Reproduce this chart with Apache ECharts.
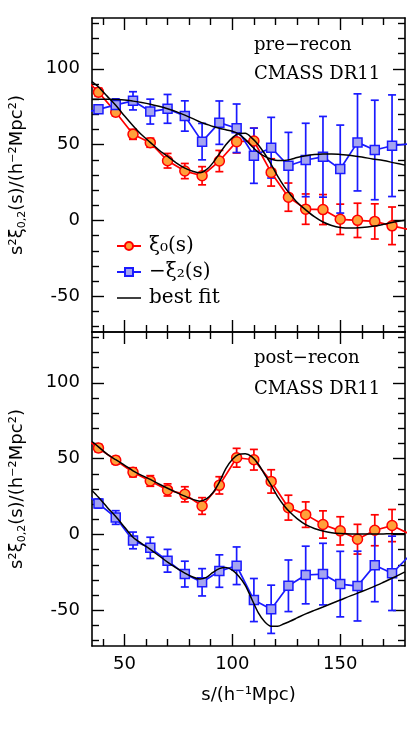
<!DOCTYPE html>
<html>
<head>
<meta charset="utf-8">
<script src="https://cdn.jsdelivr.net/npm/echarts@6/dist/echarts.min.js"></script>
<style>
  html, body { margin: 0; padding: 0; background: #fff; }
  #chart { width: 415px; height: 736px; }
</style>
</head>
<body>
<div id="chart"></div>
<script>
// bin centres, s in h^-1 Mpc
const sBins = [38, 46, 54, 62, 70, 78, 86, 94, 102, 110, 118, 126, 134, 142, 150, 158, 166, 174];

// pre-recon
const preXi0 = [84.6, 71.4, 56.8, 51.3, 39.4, 32.6, 29.5, 39.2, 52.0, 52.4, 31.7, 15.4, 7.5, 7.2, 0.8, 0.1, -0.6, -3.5];
const preXi0Err = [2.7, 2.5, 3.3, 3.0, 4.8, 5.0, 6.0, 7.0, 7.5, 8.5, 9.0, 9.3, 10.0, 9.9, 10.0, 11.3, 11.6, 12.4];
const preXi2 = [73.3, 76.2, 78.9, 71.8, 73.6, 68.9, 52.0, 64.5, 60.8, 42.7, 48.0, 36.1, 39.9, 42.0, 33.9, 51.5, 46.5, 49.3];
const preXi2Err = [2.5, 4.0, 6.0, 8.2, 9.5, 10.0, 12.0, 14.3, 16.0, 18.2, 20.0, 22.0, 24.2, 26.6, 29.0, 32.0, 32.8, 33.5];

// post-recon
const postXi0 = [57.0, 48.9, 41.0, 35.3, 29.4, 26.5, 18.8, 32.4, 50.6, 49.3, 35.0, 17.7, 13.1, 6.6, 2.4, -3.1, 2.8, 5.9];
const postXi0Err = [2.5, 2.5, 3.0, 3.5, 4.0, 5.0, 5.5, 5.7, 6.2, 6.8, 7.7, 8.2, 8.4, 9.0, 9.3, 9.8, 10.2, 10.6];
const postXi2 = [20.4, 11.2, -3.9, -8.8, -17.3, -26.1, -31.5, -24.1, -20.6, -43.2, -49.3, -33.8, -26.7, -26.1, -32.7, -34.0, -20.2, -25.6];
const postXi2Err = [3.0, 4.5, 5.5, 7.0, 7.5, 8.5, 9.0, 10.7, 12.4, 14.2, 15.9, 17.0, 19.0, 20.3, 21.6, 23.0, 24.1, 24.5];

// neighbouring bins just outside the plotted range (s = 30 and 182), only the joining line shows
const edgeS = [30, 182];
const preXi0Edge = [96, -6];
const preXi2Edge = [70.5, 50.5];
const postXi0Edge = [65, 0.4];
const postXi2Edge = [29, -14];

// best fit models
const fitS = [35, 38, 42, 46, 50, 54, 58, 62, 66, 70, 74, 78, 82, 85, 88, 91, 94, 97, 100, 103, 106, 109, 112, 115, 118, 121, 124, 127, 130, 134, 138, 142, 146, 150, 155, 160, 165, 170, 175, 180];
const fitPreXi0 = [91.5, 88, 82, 76, 69, 62.5, 56.5, 51.5, 46.5, 42.3, 38, 34.5, 32.3, 31.5, 33.5, 38, 44, 50, 54.5, 57.3, 57.5, 54.5, 50, 44, 37, 29.2, 22.5, 17, 12, 7, 2.5, -1, -3.3, -4.6, -5, -4.6, -3.8, -2.5, -1, 0.2];
const fitPreXi2 = [80, 80, 80, 79.8, 79.5, 78.7, 77.8, 76.7, 75.3, 73.7, 71.8, 69.5, 67, 65, 63.5, 62, 60.8, 59.8, 58.8, 57, 53.5, 49, 45, 42.3, 40.5, 39.5, 39.6, 40.3, 41.5, 42.7, 43.5, 43.9, 43.9, 43.5, 42.8, 41.8, 40.6, 39.5, 38, 36.5];
const fitPostXi0 = [61.3, 57.8, 53, 49.3, 45.8, 42, 39, 36.3, 33.3, 30.5, 27.8, 25.3, 23, 22, 23.5, 27.5, 34.5, 43.5, 49.5, 52.8, 53.2, 51.3, 46.5, 39.5, 32.5, 25, 19, 14.3, 10.5, 6.5, 4, 2.3, 1.2, 0.7, 0.4, 0.3, 0.3, 0.4, 0.5, 0.5];
const fitPostXi2 = [29, 24.5, 18, 11.8, 5, -1.8, -6, -9.8, -14, -18.2, -22, -25.4, -28.2, -29.4, -28.3, -25, -22.5, -21.8, -23.5, -27.5, -33.5, -42.5, -51.5, -57.5, -60.5, -60.5, -58.8, -57, -55, -52.3, -50, -47.8, -45.5, -43.2, -40.3, -37.6, -34.7, -31.5, -28.2, -24.6];

// axes
const xMin = 35, xMax = 180;
const yMin = -73.5, yMax = 133.5;
const xMajor = [50, 100, 150];
const xMinor = [40, 60, 70, 80, 90, 110, 120, 130, 140, 160, 170];
const yMajor = [-50, 0, 50, 100];
const yMinor = [-70, -60, -40, -30, -20, -10, 10, 20, 30, 40, 60, 70, 80, 90, 110, 120, 130];

const RED = '#ff0000', ORANGE = '#ffa03a';
const BLUE = '#1a1aff', LBLUE = '#a4a4f0';
const SANS = 'DejaVu Sans', SERIF = 'DejaVu Serif';

const chart = echarts.init(document.getElementById('chart'));

function pairs(xs, ys) {
  return xs.map((x, i) => [x, ys[i]]);
}
function withEdges(vals, edge) {
  let d = pairs(sBins, vals);
  d.unshift({ value: [edgeS[0], edge[0]], symbol: 'none' });
  d.push({ value: [edgeS[1], edge[1]], symbol: 'none' });
  return d;
}

// one axis per tick length, per side, per panel
function xAxisFor(g, pos, ticks, len, labels) {
  return {
    type: 'value', gridIndex: g, position: pos, min: xMin, max: xMax,
    axisLine: { show: len > 8, onZero: false, lineStyle: { color: '#000', width: 1.6 } },
    axisTick: { show: true, inside: true, length: len, customValues: ticks, lineStyle: { color: '#000', width: 1.4 } },
    axisLabel: labels ? { show: true, customValues: xMajor, margin: 9, color: '#000', fontFamily: SANS, fontSize: 18 } : { show: false },
    splitLine: { show: false },
    name: labels ? 's/(h⁻¹Mpc)' : '',
    nameLocation: 'middle', nameGap: 40,
    nameTextStyle: { color: '#000', fontFamily: SANS, fontSize: 18 }
  };
}
function yAxisFor(g, pos, ticks, len, labels) {
  return {
    type: 'value', gridIndex: g, position: pos, min: yMin, max: yMax,
    axisLine: { show: len > 8, onZero: false, lineStyle: { color: '#000', width: 1.6 } },
    axisTick: { show: true, inside: true, length: len, customValues: ticks, lineStyle: { color: '#000', width: 1.4 } },
    axisLabel: labels ? { show: true, customValues: yMajor, margin: 12, color: '#000', fontFamily: SANS, fontSize: 18 } : { show: false },
    splitLine: { show: false },
    name: labels ? '{a|s²ξ}{b|0,2}{a|(s)/(h⁻²Mpc²)}' : '',
    nameLocation: 'middle', nameGap: 64,
    nameTextStyle: {
      color: '#000',
      rich: {
        a: { fontFamily: SANS, fontSize: 18, lineHeight: 22, color: '#000' },
        b: { fontFamily: SANS, fontSize: 11, lineHeight: 11, verticalAlign: 'bottom', color: '#000' }
      }
    }
  };
}

let xAxes = [], yAxes = [];
[0, 1].forEach(g => {
  xAxes.push(xAxisFor(g, 'bottom', xMajor, 12, g === 1));
  xAxes.push(xAxisFor(g, 'bottom', xMinor, 7, false));
  xAxes.push(xAxisFor(g, 'top', xMajor, 12, false));
  xAxes.push(xAxisFor(g, 'top', xMinor, 7, false));
  yAxes.push(yAxisFor(g, 'left', yMajor, 12, true));
  yAxes.push(yAxisFor(g, 'left', yMinor, 7, false));
  yAxes.push(yAxisFor(g, 'right', yMajor, 12, false));
  yAxes.push(yAxisFor(g, 'right', yMinor, 7, false));
});

function errorBars(g, vals, errs, color) {
  return {
    type: 'custom', xAxisIndex: 4 * g, yAxisIndex: 4 * g, z: 3, clip: true,
    silent: true,
    data: sBins.map((s, i) => [s, vals[i], errs[i]]),
    encode: { x: 0, y: 1 },
    renderItem: function (params, api) {
      const s = api.value(0), v = api.value(1), e = api.value(2);
      const hi = api.coord([s, v + e]);
      const lo = api.coord([s, v - e]);
      const w = 4;
      const st = { stroke: color, lineWidth: 1.7 };
      return {
        type: 'group',
        children: [
          { type: 'line', shape: { x1: hi[0], y1: hi[1], x2: lo[0], y2: lo[1] }, style: st },
          { type: 'line', shape: { x1: hi[0] - w, y1: hi[1], x2: hi[0] + w, y2: hi[1] }, style: st },
          { type: 'line', shape: { x1: lo[0] - w, y1: lo[1], x2: lo[0] + w, y2: lo[1] }, style: st }
        ]
      };
    }
  };
}

function dataLine(g, name, vals, edge, color, fill, symbol, size) {
  return {
    type: 'line', name: name, xAxisIndex: 4 * g, yAxisIndex: 4 * g, z: 4,
    data: withEdges(vals, edge),
    symbol: symbol, symbolSize: size, showAllSymbol: true,
    lineStyle: { color: color, width: 1.7 },
    itemStyle: { color: fill, borderColor: color, borderWidth: 1.5 },
    animation: false
  };
}

function fitLine(g, vals) {
  return {
    type: 'line', name: 'fit', xAxisIndex: 4 * g, yAxisIndex: 4 * g, z: 5,
    data: pairs(fitS, vals),
    symbol: 'none', smooth: 0.3,
    lineStyle: { color: '#000', width: 1.5 },
    itemStyle: { color: '#000' },
    animation: false
  };
}

const series = [
  errorBars(0, preXi0, preXi0Err, RED),
  errorBars(0, preXi2, preXi2Err, BLUE),
  dataLine(0, 'xi0', preXi0, preXi0Edge, RED, ORANGE, 'circle', 10),
  dataLine(0, 'xi2', preXi2, preXi2Edge, BLUE, LBLUE, 'rect', 9),
  fitLine(0, fitPreXi0),
  fitLine(0, fitPreXi2),
  errorBars(1, postXi0, postXi0Err, RED),
  errorBars(1, postXi2, postXi2Err, BLUE),
  dataLine(1, 'xi0', postXi0, postXi0Edge, RED, ORANGE, 'circle', 10),
  dataLine(1, 'xi2', postXi2, postXi2Edge, BLUE, LBLUE, 'rect', 9),
  fitLine(1, fitPostXi0),
  fitLine(1, fitPostXi2)
];

const labelStyle = { color: '#000', fontFamily: SERIF, fontSize: 18, fontWeight: 'normal' };

chart.setOption({
  animation: false,
  backgroundColor: '#fff',
  grid: [
    { left: 91, right: 10, top: 18, height: 314 },
    { left: 91, right: 10, top: 332, height: 314 }
  ],
  xAxis: xAxes,
  yAxis: yAxes,
  title: [
    { text: 'pre−recon', left: 254, top: 36, padding: 0, textStyle: labelStyle },
    { text: 'CMASS DR11', left: 254, top: 65, padding: 0, textStyle: labelStyle },
    { text: 'post−recon', left: 254, top: 349, padding: 0, textStyle: labelStyle },
    { text: 'CMASS DR11', left: 254, top: 380, padding: 0, textStyle: labelStyle }
  ],
  legend: {
    data: ['xi0', 'xi2', { name: 'fit', icon: 'path://M0,0L40,0L40,2.5L0,2.5Z' }],
    orient: 'vertical',
    left: 111, top: 230,
    itemWidth: 24, itemHeight: 10, itemGap: 4,
    selectedMode: false,
    formatter: function (name) {
      if (name === 'xi0') return 'ξ₀(s)';
      if (name === 'xi2') return '−ξ₂(s)';
      return 'best fit';
    },
    textStyle: { color: '#000', fontFamily: SERIF, fontSize: 20, lineHeight: 22, padding: [0, 0, 0, 3] }
  },
  series: series
});
</script>
</body>
</html>
